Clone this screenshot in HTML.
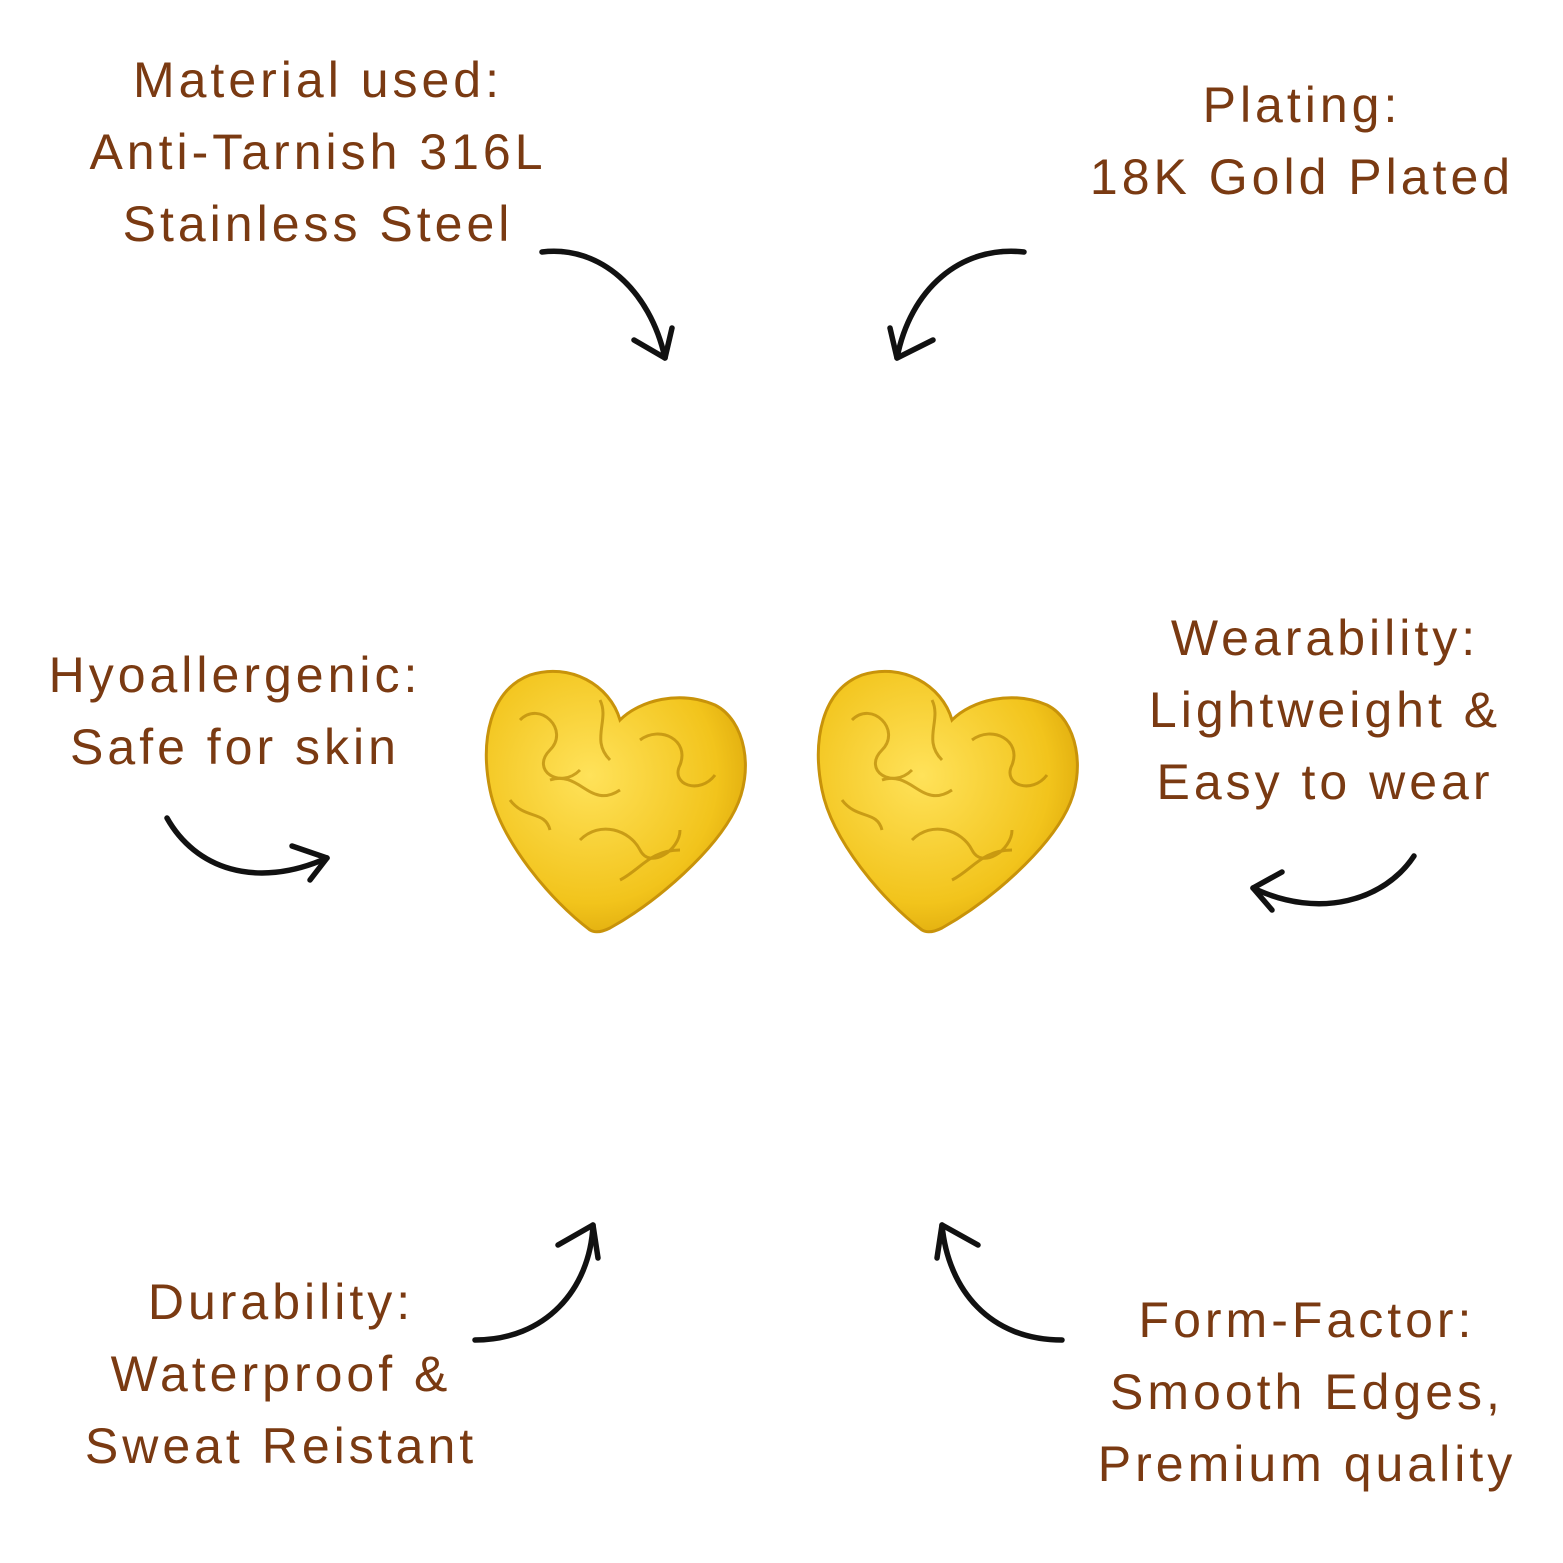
<!DOCTYPE html>
<html><head><meta charset="utf-8"><style>
html,body{margin:0;padding:0;background:#fff;}
body{width:1563px;height:1563px;position:relative;overflow:hidden;font-family:"Liberation Sans",sans-serif;}
.t{position:absolute;color:#7a3a12;font-size:50px;line-height:72px;text-align:center;white-space:nowrap;transform:translateX(-50%);letter-spacing:4px;}
svg{position:absolute;left:0;top:0;}
</style></head><body>
<div class="t" style="left:318px;top:44px">Material used:<br>Anti-Tarnish 316L<br>Stainless Steel</div>
<div class="t" style="left:1302px;top:69px">Plating:<br>18K Gold Plated</div>
<div class="t" style="left:235px;top:639px">Hyoallergenic:<br>Safe for skin</div>
<div class="t" style="left:1325px;top:602px">Wearability:<br>Lightweight &amp;<br>Easy to wear</div>
<div class="t" style="left:281px;top:1266px">Durability:<br>Waterproof &amp;<br>Sweat Reistant</div>
<div class="t" style="left:1307px;top:1284px">Form-Factor:<br>Smooth Edges,<br>Premium quality</div>
<svg width="1563" height="1563" viewBox="0 0 1563 1563">
<defs>
<radialGradient id="g" cx="0.4" cy="0.4" r="0.7"><stop offset="0" stop-color="#ffe25a"/><stop offset="0.7" stop-color="#f2c41c"/><stop offset="1" stop-color="#d9a308"/></radialGradient>
<g id="h">
<path d="M100,930 C60,900 10,840 0,790 C-10,740 0,690 40,675 C80,662 120,685 130,720 C150,700 190,690 225,705 C255,720 265,770 245,810 C225,850 170,900 120,928 C112,932 105,933 100,930 Z" fill="url(#g)" stroke="#c8930a" stroke-width="3"/>
<g fill="none" stroke="#b68608" stroke-width="3" opacity="0.7">
<path d="M30,720 c20,-20 50,10 30,30 c-20,20 10,40 30,20"/><path d="M60,780 c30,-10 40,30 70,10"/>
<path d="M150,740 c20,-15 50,0 40,25 c-10,20 20,30 35,10"/><path d="M90,840 c20,-20 50,-10 60,10 c10,20 40,0 40,-20"/>
<path d="M20,800 c15,20 35,10 40,30"/><path d="M110,700 c10,20 -10,40 10,60"/><path d="M130,880 c20,-10 30,-30 60,-30"/>
</g></g>
</defs>
<use href="#h" transform="translate(490,0)"/>
<use href="#h" transform="translate(822,0)"/>
<g fill="none" stroke="#111" stroke-width="5.5" stroke-linecap="round" stroke-linejoin="round">
<path d="M542,252 C600,245 650,290 665,358"/><path d="M634,340 L665,358 L672,328"/>
<path d="M1024,252 C960,245 910,290 897,358"/><path d="M890,328 L897,358 L933,340"/>
<path d="M167,818 C195,868 255,890 327,858"/><path d="M292,846 L327,858 L310,880"/>
<path d="M1414,856 C1385,900 1320,920 1253,888"/><path d="M1282,872 L1253,888 L1272,910"/>
<path d="M475,1340 C545,1340 590,1290 593,1225"/><path d="M558,1245 L593,1225 L598,1258"/>
<path d="M1062,1340 C990,1340 948,1290 942,1225"/><path d="M937,1258 L942,1225 L978,1245"/>
</g>
</svg>
</body></html>
